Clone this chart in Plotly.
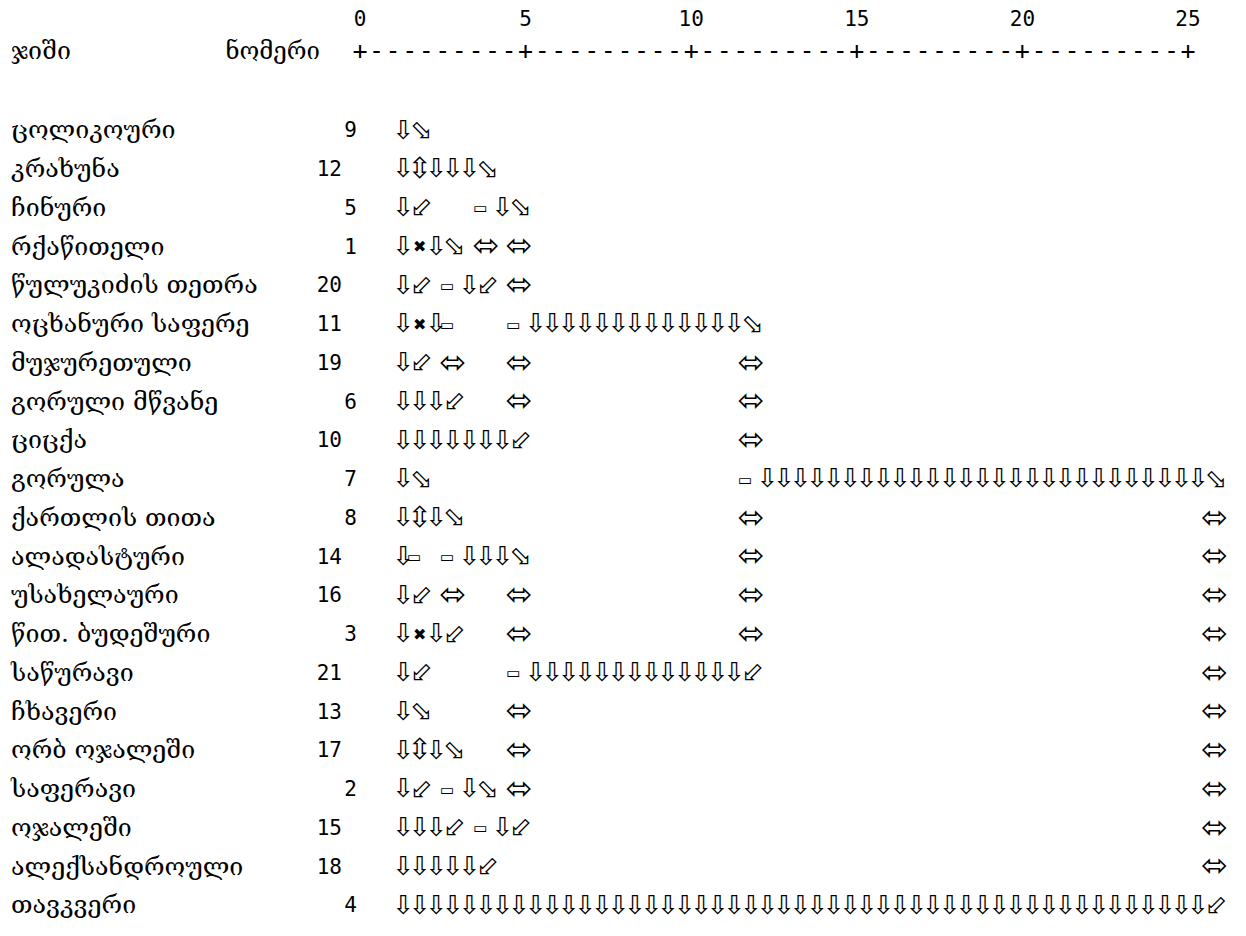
import plotly.graph_objects as go

# ---------------- data ----------------
NAMES = ["ცოლიკოური", "კრახუნა", "ჩინური", "რქაწითელი", "წულუკიძის თეთრა",
         "ოცხანური საფერე", "მუჯურეთული", "გორული მწვანე", "ციცქა", "გორულა",
         "ქართლის თითა", "ალადასტური", "უსახელაური", "წით. ბუდეშური", "საწურავი",
         "ჩხავერი", "ორბ ოჯალეში", "საფერავი", "ოჯალეში", "ალექსანდროული", "თავკვერი"]
NUMBERS = [9, 12, 5, 1, 20, 11, 19, 6, 10, 7, 8, 14, 16, 3, 21, 13, 17, 2, 15, 18, 4]
HEAD_NAME = "ჯიში"
HEAD_NUM = "ნომერი"
TICKS = [0, 5, 10, 15, 20, 25]
RULER = "+---------+---------+---------+---------+---------+"

# dendrogram rows (SPSS box drawing), one character per half unit of rescaled distance
TREE = [
    "─┐",
    "─┼───┐",
    "─┘   ├─┐",
    "─┬─┐ │ │",
    "─┘ ├─┘ │",
    "─┬─┤   ├─────────────┐",
    "─┘ │   │             │",
    "───┘   │             │",
    "───────┘             │",
    "─┐                   ├───────────────────────────┐",
    "─┼─┐                 │                           │",
    "─┤ ├───┐             │                           │",
    "─┘ │   │             │                           │",
    "─┬─┘   │             │                           │",
    "─┘     ├─────────────┘                           │",
    "─┐     │                                         │",
    "─┼─┐   │                                         │",
    "─┘ ├─┐ │                                         │",
    "───┘ ├─┘                                         │",
    "─────┘                                           │",
    "─────────────────────────────────────────────────┘",
]

# how each box-drawing character appears (symbol-font substitution)
GLYPH = {"─": "⇩", "┐": "⬂", "┘": "⬃", "│": "⬄", "┬": "✖", "┼": "⇳", "├": "▭", "┤": "▭"}
GLYPH_SIZE = {"⇩": 26, "⬂": 27, "⬃": 27, "⬄": 32, "✖": 16, "⇳": 29, "▭": 15}
GLYPH_DX = {"⇩": 0, "⬂": 0.05, "⬃": 0.05, "⬄": 0, "✖": 0, "⇳": 0, "▭": -0.17}

# ---------------- layout constants ----------------
W, H = 1246, 936
PX_PER_UNIT = 33.12          # rescaled distance unit in px
X_ZERO_PX = 352              # px position of distance 0
ROW0_PX, ROW_PX = 124, 38.75
GLYPH_X0 = 1.30              # first glyph column (distance units)
COL_STEP = 0.5


def ux(px):
    return (px - X_ZERO_PX) / PX_PER_UNIT


def uy(py):
    return (py - ROW0_PX) / ROW_PX


NAME_X = ux(3)
NUM1_X = ux(349)             # right edge, one-digit numbers
NUM2_X = ux(334)             # right edge, two-digit numbers
HEADNUM_X = ux(312)
TICK_Y = uy(13)
RULER_Y = uy(45)

MONO = "DejaVu Sans Mono"
GEO = "DejaVu Serif, DejaVu Sans"
SYM = "DejaVu Sans"

rows = list(range(len(NAMES)))
fig = go.Figure()

# names
fig.add_trace(go.Scatter(x=[NAME_X] * len(rows), y=rows, text=NAMES, mode="text",
                         textposition="middle right",
                         textfont=dict(family=GEO, size=25, color="black")))
# numbers
fig.add_trace(go.Scatter(x=[NUM1_X if n < 10 else NUM2_X for n in NUMBERS], y=rows,
                         text=[str(n) for n in NUMBERS],
                         mode="text", textposition="middle left",
                         textfont=dict(family=MONO, size=21, color="black")))
# header
fig.add_trace(go.Scatter(x=[NAME_X], y=[RULER_Y], text=[HEAD_NAME], mode="text",
                         textposition="middle right",
                         textfont=dict(family=GEO, size=25, color="black")))
fig.add_trace(go.Scatter(x=[HEADNUM_X], y=[RULER_Y], text=[HEAD_NUM], mode="text",
                         textposition="middle left",
                         textfont=dict(family=GEO, size=24, color="black")))
# tick numbers
fig.add_trace(go.Scatter(x=TICKS, y=[TICK_Y] * len(TICKS), text=[str(t) for t in TICKS],
                         mode="text", textposition="middle center",
                         textfont=dict(family=MONO, size=21, color="black")))
# ruler
fig.add_trace(go.Scatter(x=[k * COL_STEP for k in range(len(RULER))], y=[RULER_Y] * len(RULER),
                         text=list(RULER), mode="text", textposition="middle center",
                         textfont=dict(family=MONO, size=25, color="black")))

# dendrogram glyphs, one trace per glyph
groups = {}
for r, line in enumerate(TREE):
    for c, ch in enumerate(line):
        if ch == " ":
            continue
        g = GLYPH[ch]
        groups.setdefault(g, ([], []))
        groups[g][0].append(GLYPH_X0 + c * COL_STEP + GLYPH_DX[g])
        groups[g][1].append(r)
for g, (xs, ys) in groups.items():
    fig.add_trace(go.Scatter(x=xs, y=ys, text=[g] * len(xs), mode="text",
                             textposition="middle center",
                             textfont=dict(family=SYM, size=GLYPH_SIZE[g], color="black")))

fig.update_traces(hoverinfo="skip", cliponaxis=False)
fig.update_layout(
    width=W, height=H, margin=dict(l=0, r=0, t=0, b=0),
    paper_bgcolor="white", plot_bgcolor="white", showlegend=False,
    xaxis=dict(range=[ux(0), ux(W)], visible=False, fixedrange=True),
    yaxis=dict(range=[uy(H), uy(0)], visible=False, fixedrange=True),
)
fig.write_html("out.html")
